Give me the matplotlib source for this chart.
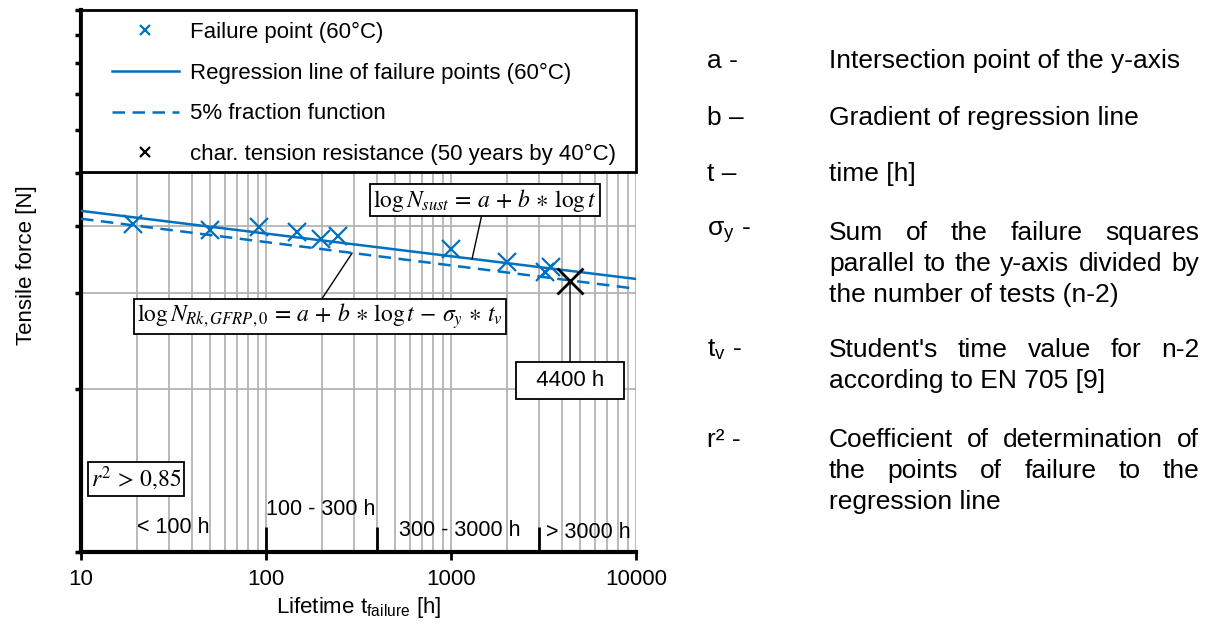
import matplotlib
matplotlib.use("Agg")
import matplotlib.pyplot as plt
import matplotlib.patches as patches
from matplotlib.ticker import NullLocator, LogLocator

plt.rcParams['font.family'] = ['Liberation Sans', 'DejaVu Sans']
plt.rcParams['mathtext.fontset'] = 'stix'

# datos
t_fallo = [19, 50, 92, 148, 198, 245, 1000, 2000, 3220, 3470]
n_fallo = [4.03, 3.93, 3.97, 3.89, 3.78, 3.83, 3.62, 3.43, 3.29, 3.36]

t_recta = [10, 10000]
n_regresion = [4.26, 3.19]
n_fraccion = [4.12, 3.06]

t_car = [4400]
n_car = [3.16]

separadores = [100, 400, 3000]
ticks_x = [10, 100, 1000, 10000]
etiquetas_x = ['10', '100', '1000', '10000']
ticks_y = [1, 2, 3, 4, 5, 6, 7, 8, 9, 10]

azul = '#0070C0'
gris = '#b4b4b4'

W, H = 1211, 626
fig = plt.figure(figsize=(W / 100, H / 100), dpi=100)
ax = fig.add_axes([81 / W, 74 / H, 555 / W, 542 / H])

ax.set_xscale('log')
ax.set_yscale('log')
ax.set_xlim(10, 10000)
ax.set_ylim(1, 10)

ax.set_xticks(ticks_x, etiquetas_x)
ax.xaxis.set_minor_locator(LogLocator(base=10, subs=range(2, 10)))
ax.set_yticks(ticks_y, [''] * len(ticks_y))
ax.yaxis.set_minor_locator(NullLocator())

ax.set_axisbelow(True)
ax.grid(True, which='major', color=gris, lw=1.3)
ax.grid(True, which='minor', axis='x', color=gris, lw=1.3)

ax.tick_params(axis='x', which='major', length=6, width=2, direction='out', labelsize=16, pad=6)
ax.tick_params(axis='x', which='minor', length=0)
ax.tick_params(axis='y', which='major', length=4, width=2.5, direction='out')

for lado in ['top', 'right']:
    ax.spines[lado].set_visible(False)
ax.spines['left'].set_linewidth(3)
ax.spines['bottom'].set_linewidth(3)

# datos
p1, = ax.plot(t_fallo, n_fallo, ls='none', marker='x', ms=13, mew=1.6, color=azul, zorder=3,
              label='Failure point (60°C)')
p2, = ax.plot(t_recta, n_regresion, color=azul, lw=1.8, zorder=3,
              label='Regression line of failure points (60°C)')
p3, = ax.plot(t_recta, n_fraccion, color=azul, lw=1.8, ls=(0, (5, 3)), zorder=3,
              label='5% fraction function')
p4, = ax.plot(t_car, n_car, ls='none', marker='x', ms=19, mew=2, color='black', zorder=4,
              label='char. tension resistance (50 years by 40°C)')

ax.vlines(separadores, 0, 25 / 542, transform=ax.get_xaxis_transform(), color='black', lw=2, zorder=4)

# leyenda
marco = patches.Rectangle((0, 380 / 542), 1, 162 / 542, transform=ax.transAxes, facecolor='white',
                          edgecolor='black', lw=2, zorder=5, clip_on=False)
ax.add_patch(marco)
ley = ax.legend(handles=[p1, p2, p3, p4], loc='upper left', bbox_to_anchor=(31 / 555, 1 - 12 / 542),
                frameon=False, fontsize=16, handlelength=3.0, handletextpad=0.5, labelspacing=0.88,
                borderpad=0, borderaxespad=0)
ley.set_zorder(6)
for h in [ley.legend_handles[0], ley.legend_handles[3]]:
    h.set_markersize(7)
    h.set_markeredgewidth(1.6)

caja = dict(boxstyle='square,pad=0.12', fc='white', ec='black', lw=1.3)
linea = dict(arrowstyle='-', color='black', lw=1, shrinkA=0, shrinkB=0)

ax.annotate(r'$\log N_{sust} \,=\, a \,+\, b \,\ast\, \log t$', xy=(1299, 3.47), xytext=(1528, 4.46),
            ha='center', va='center', fontsize=17, bbox=caja, arrowprops=linea, zorder=4)
ax.annotate(r'$\log N_{Rk,GFRP,0} \,=\, a \,+\, b \,\ast\, \log t \,-\, \sigma_y \,\ast\, t_v$',
            xy=(292, 3.56), xytext=(196, 2.72),
            ha='center', va='center', fontsize=17, bbox=caja,
            arrowprops=dict(linea, relpos=(0.5, 1)), zorder=4)
ax.annotate('  4400 h  ', xy=(4400, 3.16), xytext=(4400, 2.07), ha='center', va='center', fontsize=16,
            bbox=dict(boxstyle='square,pad=0.35', fc='white', ec='black', lw=1.3),
            arrowprops=dict(linea, relpos=(0.5, 1)), zorder=4)
ax.text(19.8, 1.364, r'$r^2 \,>\, 0{,}85$', ha='center', va='center', fontsize=17, bbox=caja, zorder=4)

ax.text(20.1, 1.11, '< 100 h', ha='left', va='center', fontsize=15.5)
ax.text(100, 1.2, '100 - 300 h', ha='left', va='center', fontsize=15.5)
ax.text(525, 1.095, '300 - 3000 h', ha='left', va='center', fontsize=15.5)
ax.text(3270, 1.085, '> 3000 h', ha='left', va='center', fontsize=15.5)

ax.set_xlabel(r'Lifetime t$_\mathregular{failure}$ [h]', fontsize=16, labelpad=4)
ax.set_ylabel('Tensile force [N]', fontsize=16)
ax.yaxis.set_label_coords(-0.08, 0.53)

# texto de la derecha
fs = 19
x_sim = 707 / W
x0_px, x1_px = 829, 1199
renderer = fig.canvas.get_renderer()


def linea_texto(y_px, texto, justificar=False):
    y = 1 - y_px / H
    if not justificar:
        fig.text(x0_px / W, y, texto, fontsize=fs, va='center', ha='left')
        return
    palabras = texto.split(' ')
    objs = [fig.text(0, y, p, fontsize=fs, va='center', ha='left') for p in palabras]
    anchos = [o.get_window_extent(renderer).width for o in objs]
    hueco = (x1_px - x0_px - sum(anchos)) / (len(palabras) - 1)
    pos = x0_px
    for o, a in zip(objs, anchos):
        o.set_x(pos / W)
        pos += a + hueco


simbolos = [(61, 'a -'), (118, 'b –'), (174, 't –'), (233, 'σ$_\\mathregular{y}$ -'),
            (350, 't$_\\mathregular{v}$ -'), (440, 'r² -')]
for y_px, s in simbolos:
    fig.text(x_sim, 1 - y_px / H, s, fontsize=fs, va='center', ha='left')

linea_texto(61, 'Intersection point of the y-axis')
linea_texto(118, 'Gradient of regression line')
linea_texto(174, 'time [h]')
linea_texto(233, 'Sum of the failure squares', True)
linea_texto(264, 'parallel to the y-axis divided by', True)
linea_texto(295, 'the number of tests (n-2)')
linea_texto(350, "Student's time value for n-2", True)
linea_texto(381, 'according to EN 705 [9]')
linea_texto(440, 'Coefficient of determination of', True)
linea_texto(471, 'the points of failure to the', True)
linea_texto(502, 'regression line')

fig.savefig('out.png', dpi=100)
